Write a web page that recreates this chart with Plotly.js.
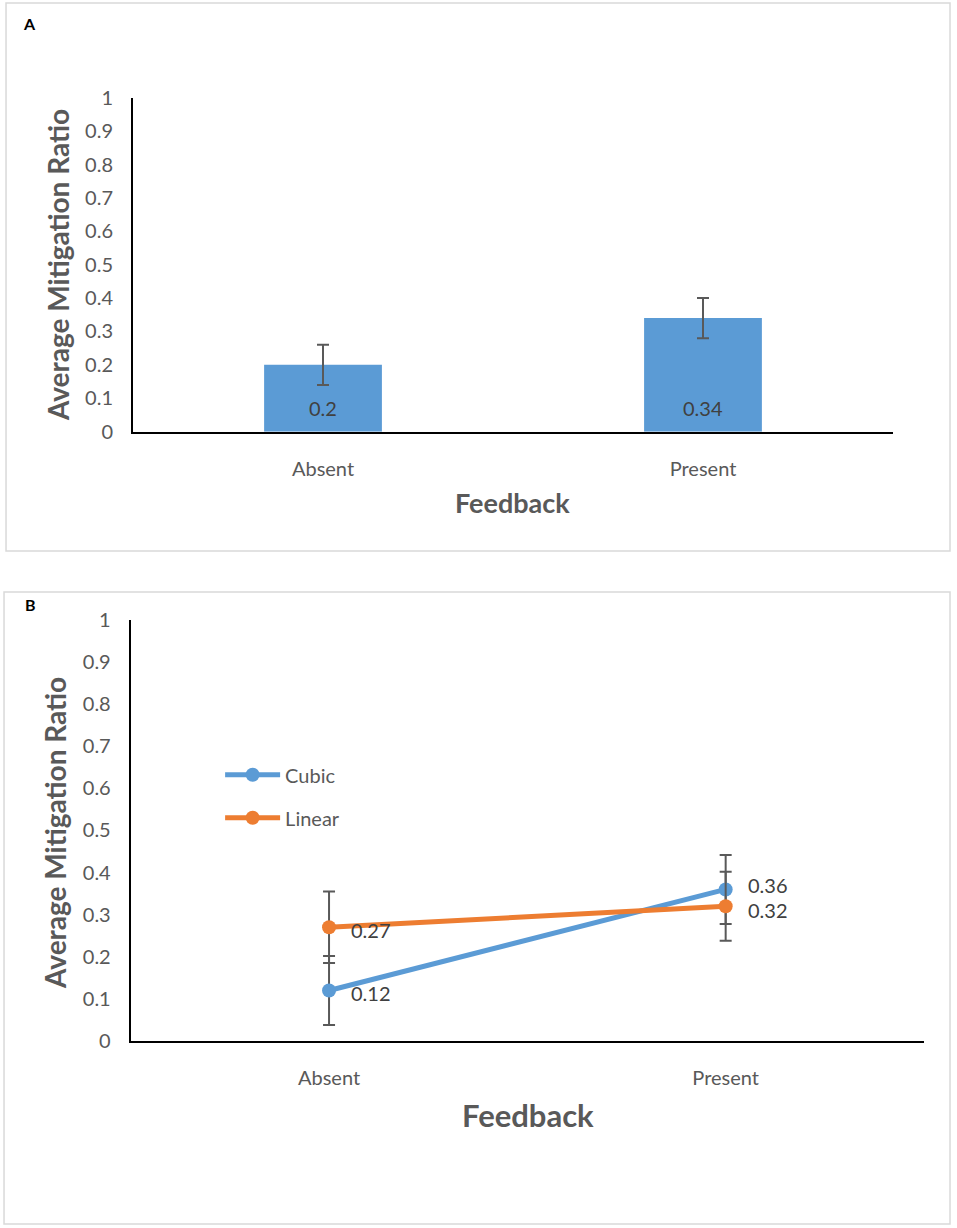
<!DOCTYPE html>
<html>
<head>
<meta charset="utf-8">
<script src="https://cdn.plot.ly/plotly-3.0.1.min.js"></script>
<style>
  html, body { margin: 0; padding: 0; background: #fff; }
  #fig { width: 957px; height: 1228px; }
</style>
</head>
<body>
<div id="fig"></div>
<script>
// categories
var feedback = ['Absent', 'Present'];

// panel A - overall mean ratio
var overallRatio = [0.2, 0.34];
var overallErr = [0.06, 0.06];

// panel B - by function type
var cubicRatio = [0.12, 0.36];
var cubicErr = [0.082, 0.082];
var linearRatio = [0.27, 0.32];
var linearErr = [0.085, 0.082];

var BLUE = '#5B9BD5';
var ORANGE = '#ED7D31';
var GREY = '#595959';
var FONT = 'Lato, "Open Sans", sans-serif';

var barA = {
  type: 'bar',
  x: feedback,
  y: overallRatio,
  error_y: { type: 'data', array: overallErr, color: GREY, thickness: 2, width: 6 },
  marker: { color: BLUE },
  showlegend: false,
  hoverinfo: 'x+y',
  xaxis: 'x', yaxis: 'y'
};

var cubic = {
  type: 'scatter',
  mode: 'lines+markers',
  name: 'Cubic',
  legendgroup: 'cubic',
  x: feedback,
  y: cubicRatio,
  error_y: { type: 'data', array: cubicErr, color: GREY, thickness: 2, width: 6 },
  line: { color: BLUE, width: 5 },
  marker: { color: BLUE, size: 14 },
  xaxis: 'x2', yaxis: 'y2'
};

var linear = {
  type: 'scatter',
  mode: 'lines+markers',
  name: 'Linear',
  legendgroup: 'linear',
  x: feedback,
  y: linearRatio,
  error_y: { type: 'data', array: linearErr, color: GREY, thickness: 2, width: 6 },
  line: { color: ORANGE, width: 5 },
  marker: { color: ORANGE, size: 14 },
  xaxis: 'x2', yaxis: 'y2'
};

// value labels, taken from the same arrays
var labels = [];
feedback.forEach(function (f, i) {
  var cubicUp = cubicRatio[i] > linearRatio[i];
  labels.push({ xref: 'x', yref: 'y', x: f, y: 0, yshift: 24, text: String(overallRatio[i]),
    showarrow: false, font: { size: 20, color: '#404040' } });
  labels.push({ xref: 'x2', yref: 'y2', x: f, y: cubicRatio[i], xshift: 20, yshift: i === 0 ? -3 : (cubicUp ? 4 : -4),
    xanchor: 'left', text: String(cubicRatio[i]), showarrow: false, font: { size: 20, color: '#404040' } });
  labels.push({ xref: 'x2', yref: 'y2', x: f, y: linearRatio[i], xshift: 20, yshift: i === 0 ? -3 : (cubicUp ? -4 : 4),
    xanchor: 'left', text: String(linearRatio[i]), showarrow: false, font: { size: 20, color: '#404040' } });
});

var titles = [
  { text: '<b>A</b>', x: 0.031, y: 0.9805, font: { size: 16, color: '#000' } },
  { text: '<b>B</b>', x: 0.032, y: 0.5075, font: { size: 16, color: '#000' } },
  { text: '<b>Average Mitigation Ratio</b>', x: 0.0606, y: 0.7842, textangle: -90, font: { size: 28, color: GREY } },
  { text: '<b>Feedback</b>', x: 0.536, y: 0.5904, font: { size: 27, color: GREY } },
  { text: '<b>Average Mitigation Ratio</b>', x: 0.0575, y: 0.3217, textangle: -90, font: { size: 28, color: GREY } },
  { text: '<b>Feedback</b>', x: 0.5517, y: 0.092, font: { size: 31, color: GREY } }
].map(function (a) {
  a.xref = 'paper'; a.yref = 'paper'; a.showarrow = false;
  a.xanchor = 'center'; a.yanchor = 'middle';
  return a;
});

var yAxisStyle = {
  range: [0, 1], dtick: 0.1, showgrid: false, zeroline: false,
  showline: true, linecolor: '#000', linewidth: 2,
  ticks: '', ticklabelstandoff: 14, tickfont: { size: 20, color: GREY }, fixedrange: true
};
var xAxisStyle = {
  range: [-0.5, 1.5], showgrid: false, zeroline: false, showline: true, linecolor: '#000', linewidth: 2,
  ticks: '', ticklabelstandoff: 18, tickfont: { size: 20, color: GREY }, fixedrange: true
};

var layout = {
  width: 957, height: 1228,
  margin: { l: 0, r: 0, t: 0, b: 0 },
  paper_bgcolor: '#fff', plot_bgcolor: '#fff',
  font: { family: FONT, color: GREY },
  bargap: 0.69,
  xaxis: Object.assign({ domain: [0.139, 0.9331], anchor: 'y' }, xAxisStyle),
  yaxis: Object.assign({ domain: [0.6485, 0.9204], anchor: 'x' }, yAxisStyle),
  xaxis2: Object.assign({ domain: [0.1366, 0.9655], anchor: 'y2' }, xAxisStyle),
  yaxis2: Object.assign({ domain: [0.1523, 0.4951], anchor: 'x2' }, yAxisStyle),
  legend: {
    x: 0.23, y: 0.385, xanchor: 'left', yanchor: 'top',
    bgcolor: 'rgba(0,0,0,0)', font: { size: 20, color: GREY },
    tracegroupgap: 14, itemwidth: 55, traceorder: 'grouped'
  },
  showlegend: true,
  annotations: labels.concat(titles),
  shapes: [
    { type: 'rect', xref: 'paper', yref: 'paper', x0: 0.0063, x1: 0.9927, y0: 0.5513, y1: 0.9976,
      line: { color: '#d9d9d9', width: 1.5 } },
    { type: 'rect', xref: 'paper', yref: 'paper', x0: 0.0042, x1: 0.9927, y0: 0.0033, y1: 0.5179,
      line: { color: '#d9d9d9', width: 1.5 } }
  ]
};

Plotly.newPlot('fig', [barA, cubic, linear], layout, { displayModeBar: false, staticPlot: true });
</script>
</body>
</html>
